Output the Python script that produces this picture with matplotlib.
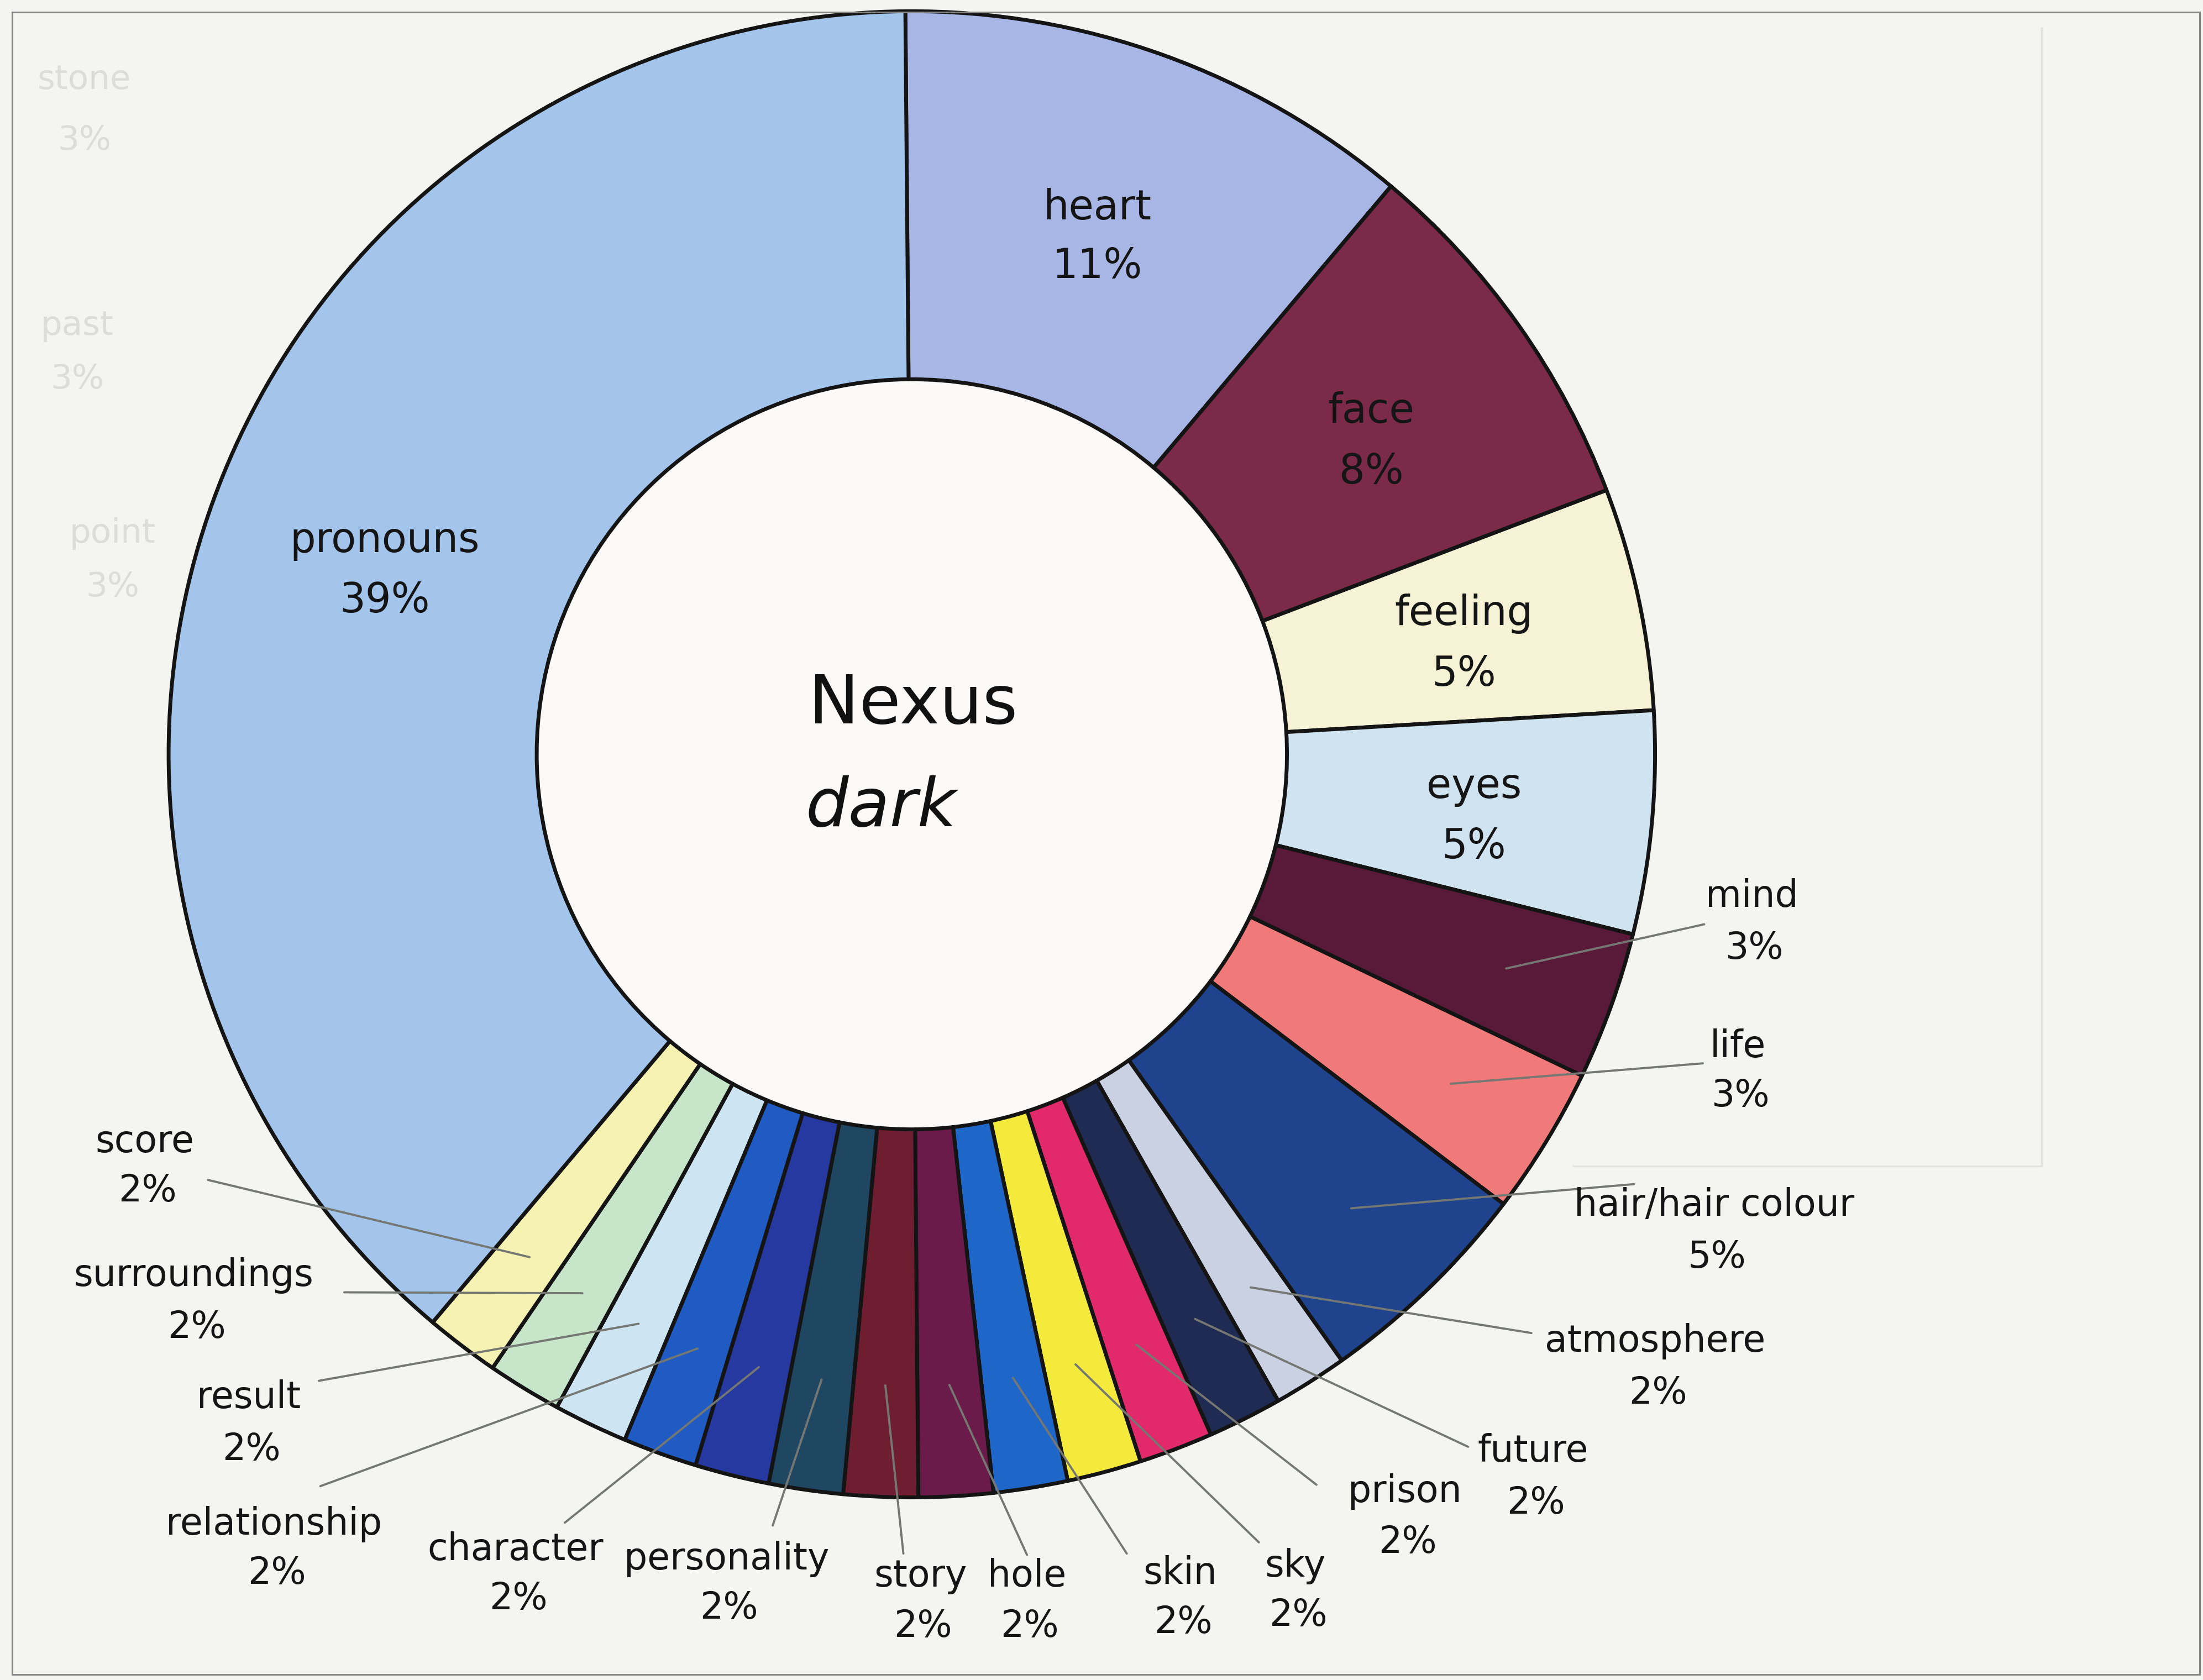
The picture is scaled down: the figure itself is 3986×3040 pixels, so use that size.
import matplotlib
matplotlib.use('Agg')
import matplotlib.pyplot as plt
import numpy as np
from matplotlib.patches import Circle, Rectangle

# ---------------- data ----------------
categories = ['heart', 'face', 'feeling', 'eyes', 'mind', 'life', 'hair/hair colour',
              'atmosphere', 'future', 'prison', 'sky', 'skin', 'hole', 'story',
              'personality', 'character', 'relationship', 'result', 'surroundings',
              'score', 'pronouns']
counts = [7, 5, 3, 3, 2, 2, 3,
          1, 1, 1, 1, 1, 1, 1,
          1, 1, 1, 1, 1,
          1, 24]
colors = ['#a7b6e4', '#7b2b47', '#f6f2d6', '#cfe3f1', '#581a38', '#f07a7a', '#1f438d',
          '#c9d1e3', '#1f2b52', '#e22a6a', '#f3ea3c', '#1f66c9', '#6b1b49', '#6f1e32',
          '#1f4762', '#2539a0', '#1f5bc2', '#cde5f2', '#c6e5c9',
          '#f6f2b2', '#a4c5eb']
center_title = 'Nexus'
center_sub = 'dark'

# ---------------- layout (reference pixel grid 1568 x 1196) ----------------
W, H = 1568.0, 1196.0
CX, CY = 649.0, 537.0
R, RIN = 529.0, 267.0

inside_pos = {'heart': (781, 148, 190), 'face': (976, 293, 336),
              'feeling': (1042, 437, 480), 'eyes': (1049, 560, 603),
              'pronouns': (274, 385, 428)}
# name: (text x, line1 y, line2 y, leader start x, leader start y)
outside_pos = {
    'mind': (1247, 638, 675, 1213, 658),
    'life': (1237, 745, 780, 1212, 757),
    'hair/hair colour': (1220, 858, 895, 1163, 843),
    'atmosphere': (1178, 955, 992, 1090, 949),
    'future': (1091, 1033, 1070, 1045, 1030),
    'prison': (1000, 1062, 1098, 937, 1057),
    'sky': (922, 1115, 1150, 896, 1098),
    'skin': (840, 1120, 1155, 802, 1106),
    'hole': (731, 1122, 1158, 731, 1107),
    'story': (655, 1122, 1158, 643, 1106),
    'personality': (517, 1110, 1145, 550, 1086),
    'character': (367, 1103, 1138, 402, 1084),
    'relationship': (195, 1085, 1120, 228, 1058),
    'result': (177, 995, 1032, 227, 983),
    'surroundings': (138, 908, 945, 245, 920),
    'score': (103, 813, 848, 148, 840),
}
LEADER_R = 0.85


def Y(y):
    return H - y


fig = plt.figure(figsize=(39.86, 30.40), dpi=100)
fig.patch.set_facecolor('#f4f5f0')
ax = fig.add_axes([0, 0, 1, 1])
ax.set_facecolor('#f4f5f0')

# faint bleed-through of the facing page (left margin only)
ghost = '#dcddd8'
ghost_txt = [('stone', 60, 57), ('3%', 60, 100), ('past', 55, 232), ('3%', 55, 270),
             ('point', 80, 380), ('3%', 80, 418)]
for t, x, y in ghost_txt:
    ax.text(x, Y(y), t, ha='center', va='center', fontsize=44, color=ghost, zorder=0)
ax.plot([1453, 1453], [Y(20), Y(830)], color='#e2e3de', lw=2.5, zorder=0)
ax.plot([1120, 1453], [Y(830), Y(830)], color='#e2e3de', lw=2.5, zorder=0)

# inner hole
ax.add_patch(Circle((CX, Y(CY)), RIN, facecolor='#fbfaf9', edgecolor='none', zorder=0.5))

wedges, _ = ax.pie(counts, colors=colors, startangle=90.5, counterclock=False,
                   radius=R, center=(CX, Y(CY)),
                   wedgeprops=dict(width=R - RIN, edgecolor='#141414', linewidth=5,
                                   joinstyle='round'))
for w in wedges:
    w.set_zorder(2)

total = sum(counts)
pcts = ['%d%%' % round(100.0 * c / total) for c in counts]

txt_col = '#151515'
for i, name in enumerate(categories):
    if name in inside_pos:
        x, y1, y2 = inside_pos[name]
        ax.text(x, Y(y1), name, ha='center', va='center', fontsize=53, color=txt_col, zorder=5)
        ax.text(x, Y(y2), pcts[i], ha='center', va='center', fontsize=53, color=txt_col, zorder=5)
    else:
        x, y1, y2, lx, ly = outside_pos[name]
        ax.text(x, Y(y1), name, ha='center', va='center', fontsize=48, color=txt_col, zorder=5)
        ax.text(x + 2, Y(y2), pcts[i], ha='center', va='center', fontsize=48, color=txt_col, zorder=5)
        w = wedges[i]
        mid = np.deg2rad(0.5 * (w.theta1 + w.theta2))
        ex = CX + LEADER_R * R * np.cos(mid)
        ey = Y(CY) + LEADER_R * R * np.sin(mid)
        ax.plot([lx, ex], [Y(ly), ey], color='#757773', lw=2.8, zorder=4,
                solid_capstyle='round')

ax.text(650, Y(502), center_title, ha='center', va='center', fontsize=88, color='#111111', zorder=5)
ax.text(627, Y(575), center_sub, ha='center', va='center', fontsize=88, style='italic',
        color='#111111', zorder=5)

# frame
ax.add_patch(Rectangle((8.5, Y(1192)), 1557, 1192 - 8.6, fill=False,
                       edgecolor='#858585', linewidth=2.2, zorder=6))

ax.set_xlim(0, W)
ax.set_ylim(0, H)
ax.set_aspect('auto')
ax.axis('off')

fig.savefig('out.png', dpi=100, facecolor=fig.get_facecolor())
